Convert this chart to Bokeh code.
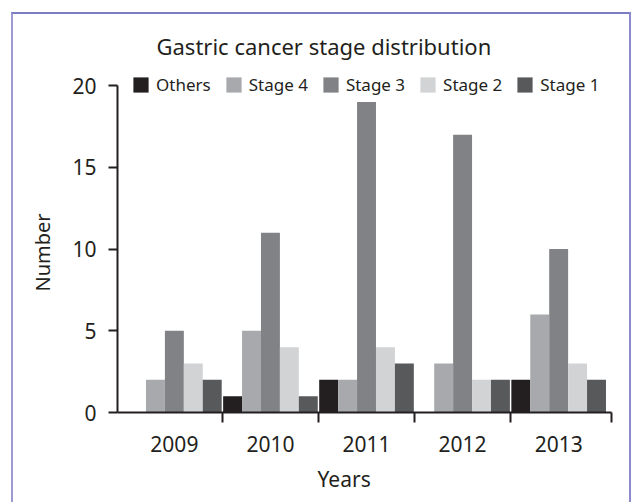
import numpy as np
from bokeh.plotting import figure
from bokeh.models import ColumnDataSource, Range1d, FixedTicker, Legend, LegendItem, Title
from bokeh.transform import dodge
from bokeh.embed import file_html
from bokeh.resources import INLINE

# ---- data ----
years = ["2009", "2010", "2011", "2012", "2013"]
series = ["Others", "Stage 4", "Stage 3", "Stage 2", "Stage 1"]
others = [0, 1, 2, 0, 2]
stage4 = [2, 5, 2, 3, 6]
stage3 = [5, 11, 19, 17, 10]
stage2 = [3, 4, 4, 2, 3]
stage1 = [2, 1, 3, 2, 2]
colors = ["#231f20", "#a7a9ac", "#808285", "#d1d3d4", "#58595b"]
y_ticks = [0, 5, 10, 15, 20]
title_text = "Gastric cancer stage distribution"
x_title = "Years"
y_title = "Number"

FONT = "Noto Sans"
INK = "#231f20"

x_start, x_end = -0.592, 4.55
p = figure(width=616, height=488,
           x_range=Range1d(x_start, x_end), y_range=Range1d(0, 21.3),
           output_backend="svg", toolbar_location=None,
           min_border_left=104, min_border_right=22,
           min_border_top=50, min_border_bottom=91)
p.styles = {"box-sizing": "content-box",
            "margin-left": "11px", "margin-top": "12px",
            "border-left": "2px solid #9c9cd2",
            "border-top": "2px solid #7c7cc4",
            "border-right": "2px solid #8c8ccc"}
p.background_fill_color = "white"
p.border_fill_color = "white"
p.outline_line_color = None
p.xgrid.visible = False
p.ygrid.visible = False

idx = list(range(len(years)))
src = ColumnDataSource(dict(x=idx, s0=others, s1=stage4, s2=stage3, s3=stage2, s4=stage1))
w = 0.197
renderers = []
for k, (name, col) in enumerate(zip(series, colors)):
    r = p.vbar(x=dodge("x", (k - 2) * w), top="s%d" % k, width=w, source=src,
               fill_color=col, line_color=None)
    renderers.append(r)

legend = Legend(items=[LegendItem(label=n, renderers=[r]) for n, r in zip(series, renderers)],
                orientation="horizontal", location=(14, 316),
                glyph_width=19, glyph_height=19, label_standoff=6, spacing=13,
                padding=0, margin=0, border_line_color=None, background_fill_alpha=0,
                label_text_font=FONT, label_text_font_size="17px", label_text_color=INK)
p.add_layout(legend)

# x axis
xa = p.xaxis[0]
xa.ticker = FixedTicker(ticks=idx, minor_ticks=[i + 0.5 for i in idx[:-1]] + [x_end])
xa.major_label_overrides = {i: y for i, y in zip(idx, years)}
xa.major_tick_line_color = None
xa.major_tick_out = 10
xa.major_tick_in = 0
xa.minor_tick_line_color = INK
xa.minor_tick_line_width = 2
xa.minor_tick_in = 0
xa.minor_tick_out = 10
xa.axis_line_color = INK
xa.axis_line_width = 2
xa.major_label_standoff = 13
xa.major_label_text_font = FONT
xa.major_label_text_font_size = "21px"
xa.major_label_text_color = INK

# y axis
ya = p.yaxis[0]
ya.ticker = FixedTicker(ticks=y_ticks, minor_ticks=[])
ya.bounds = (0, 20)
ya.major_tick_out = 9
ya.major_tick_in = 0
ya.major_tick_line_width = 2
ya.major_tick_line_color = INK
ya.minor_tick_line_color = None
ya.axis_line_color = INK
ya.axis_line_width = 2
ya.major_label_standoff = 12
ya.major_label_text_font = FONT
ya.major_label_text_font_size = "21px"
ya.major_label_text_color = INK

p.add_layout(Title(text=title_text, align="left", offset=39, standoff=7,
                   text_font=FONT, text_font_size="22px", text_font_style="normal",
                   text_color=INK), "above")
p.add_layout(Title(text=x_title, align="left", offset=200, standoff=20, vertical_align="top",
                   text_font=FONT, text_font_size="21px", text_font_style="normal",
                   text_color=INK), "below")
p.add_layout(Title(text=y_title, align="left", offset=121, standoff=27,
                   text_font=FONT, text_font_size="20px", text_font_style="normal",
                   text_color=INK), "left")

open("out.html", "w").write(file_html(p, INLINE))
